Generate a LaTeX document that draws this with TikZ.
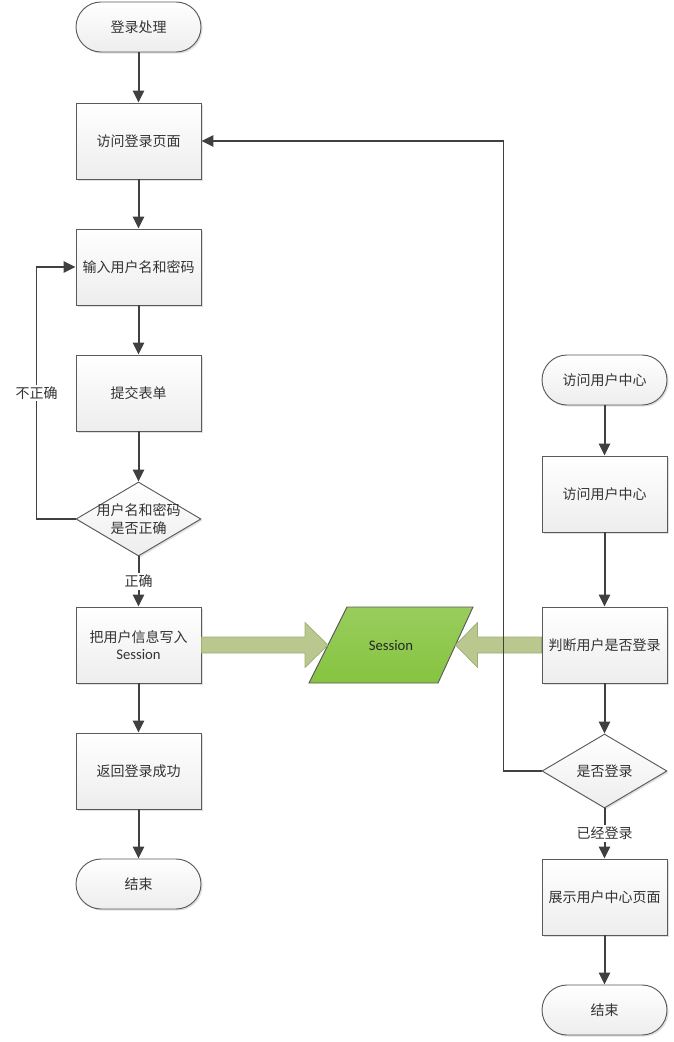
\documentclass[tikz,border=0pt]{standalone}
\usepackage{fontspec}
\setmainfont{Noto Sans CJK SC}
\newfontfamily\latf{Carlito}
\usetikzlibrary{shapes.geometric,shadows,arrows.meta,calc}
\definecolor{linec}{HTML}{404040}
\definecolor{borderc}{HTML}{5A5A5A}
\definecolor{txtc}{HTML}{333333}
\definecolor{fatfill}{HTML}{BAC78E}
\definecolor{fatdraw}{HTML}{9EAE72}
\definecolor{sessfill}{HTML}{86C440}
\tikzset{
  base/.style={draw=borderc, line width=0.7pt, text=txtc, inner sep=0pt,
    font=\fontsize{10.5pt}{13pt}\selectfont, align=center,
    top color=white, bottom color=gray!14,
    drop shadow={shadow xshift=1.2pt, shadow yshift=-1.2pt, opacity=0.25}},
  procbox/.style={base, rectangle, minimum width=93.75pt, minimum height=57pt},
  termbox/.style={base, rectangle, rounded corners=18.75pt, minimum width=93.75pt, minimum height=37.5pt},
  decbox/.style={base, diamond, minimum width=93.75pt, minimum height=55.5pt},
  conn/.style={draw=linec, line width=1.5pt, -{Triangle[length=9pt,width=8.5pt]}},
  thinconn/.style={draw=linec, line width=1.1pt, -{Triangle[length=9pt,width=8.5pt]}},
  lbl/.style={fill=white, text=txtc, inner sep=1.5pt, font=\fontsize{10.5pt}{13pt}\selectfont},
  fat/.style={fill=fatfill, draw=fatdraw, line width=0.5pt},
}
\begin{document}
\begin{tikzpicture}[x=0.75pt, y=-0.75pt]
\useasboundingbox (0,0) rectangle (674,1042);
% left column
\node[termbox] (t1) at (138.5,27) {登录处理};
\node[procbox] (b1) at (138.5,141) {访问登录页面};
\node[procbox] (b2) at (138.5,267) {输入用户名和密码};
\node[procbox] (b3) at (138.5,393) {提交表单};
\node[decbox] (d1) at (138.5,519) {};
\node[text=txtc, align=center, font=\fontsize{10.5pt}{14pt}\selectfont] (d1t) at (d1) {用户名和密码\\是否正确};
\node[procbox] (b5) at (138.5,645) {把用户信息写入\\{\latf\fontsize{11pt}{13pt}\selectfont Session}};
\node[procbox] (b6) at (138.5,771) {返回登录成功};
\node[termbox] (t2) at (138.5,884) {结束};
% right column
\node[termbox] (t3) at (604.5,380) {访问用户中心};
\node[procbox] (r1) at (604.5,494) {访问用户中心};
\node[procbox] (r2) at (604.5,645) {判断用户是否登录};
\node[decbox] (d2) at (604.5,771) {是否登录};
\node[procbox] (r3) at (604.5,897) {展示用户中心页面};
\node[termbox] (t4) at (604.5,1010) {结束};
% session
\coordinate (sessW) at (328,645);
\coordinate (sessE) at (455.5,645);
\path[draw=borderc, line width=0.7pt, top color=sessfill!85!white, bottom color=sessfill]
  (347,607) -- (473,607) -- (438,683) -- (309,683) -- cycle;
\node[font=\latf\fontsize{11pt}{13pt}\selectfont, text=black!85] (sess) at (391,645) {Session};
% fat arrows
\path[fat] ($(b5.east)+(0,-8)$) -- ($(sessW)+(-23,-8)$) -- ($(sessW)+(-23,-22.5)$) -- (sessW)
  -- ($(sessW)+(-23,22.5)$) -- ($(sessW)+(-23,8)$) -- ($(b5.east)+(0,8)$) -- cycle;
\path[fat] ($(r2.west)+(0,-8)$) -- ($(sessE)+(22,-8)$) -- ($(sessE)+(22,-22.5)$) -- (sessE)
  -- ($(sessE)+(22,22.5)$) -- ($(sessE)+(22,8)$) -- ($(r2.west)+(0,8)$) -- cycle;
% connectors
\draw[conn] (t1) -- (b1);
\draw[conn] (b1) -- (b2);
\draw[conn] (b2) -- (b3);
\draw[conn] (b3) -- (d1);
\draw[conn] (d1) -- node[lbl] {正确} (b5);
\draw[conn] (b5) -- (b6);
\draw[conn] (b6) -- (t2);
\draw[thinconn] (d1.west) -- ++(-39,0) |- node[lbl, pos=0.25] {不正确} (b2.west);
\draw[conn] (t3) -- (r1);
\draw[conn] (r1) -- (r2);
\draw[conn] (r2) -- (d2);
\draw[conn] (d2) -- node[lbl] {已经登录} (r3);
\draw[conn] (r3) -- (t4);
\draw[thinconn] (d2.west) -- ++(-38,0) |- (b1.east);
\end{tikzpicture}
\end{document}
